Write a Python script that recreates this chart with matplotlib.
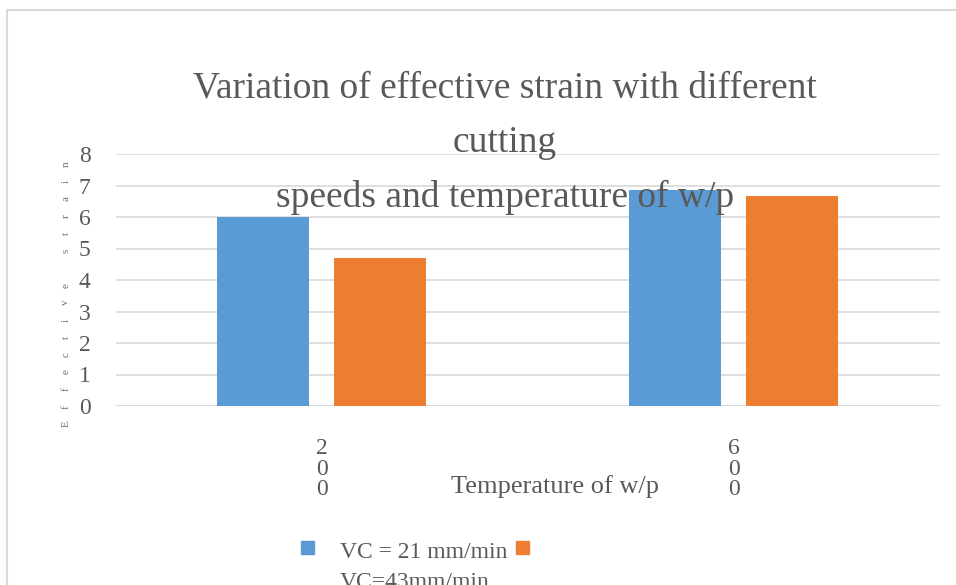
import matplotlib
matplotlib.use("Agg")
import matplotlib.pyplot as plt
import numpy as np
from matplotlib.patches import Rectangle

categories = ["2\n0\n0", "6\n0\n0"]
series_names = ["VC = 21 mm/min", "VC=43mm/min"]
vc21 = [6.0, 6.85]
vc43 = [4.71, 6.66]
yticks = [0, 1, 2, 3, 4, 5, 6, 7, 8]
title_lines = ["Variation of effective strain with different", "cutting",
               "speeds and temperature of w/p"]
ylabel = "Effective strain"
xlabel = "Temperature of w/p"

blue = "#5b9bd5"
orange = "#ed7d31"
grey_text = "#595959"
grid_col = "#d9d9d9"

plt.rcParams["font.family"] = ["Liberation Serif", "DejaVu Serif"]

W, H = 956, 585
fig = plt.figure(figsize=(W / 100, H / 100), dpi=100)

# plot area in pixel coordinates
x0, x1 = 115.5, 940
y_top, y_bot = 154, 406
ax = fig.add_axes([x0 / W, 1 - y_bot / H, (x1 - x0) / W, (y_bot - y_top) / H])

x = np.arange(len(categories))
bw = 0.223
off = 0.142
ax.bar(x - off, vc21, bw, color=blue, zorder=3)
ax.bar(x + off, vc43, bw, color=orange, zorder=3)

ax.set_xlim(-0.5, 1.5)
ax.set_ylim(0, 8)
ax.set_yticks(yticks)
ax.set_yticklabels([str(v) for v in yticks], fontsize=17, color=grey_text)
ax.set_xticks(x)
ax.set_xticklabels(categories, fontsize=17, color=grey_text, linespacing=0.98)
ax.tick_params(axis="both", length=0)
ax.tick_params(axis="y", pad=18)
ax.tick_params(axis="x", pad=23)
ax.grid(axis="y", color=grid_col, linewidth=1.2, zorder=0)
for s in ax.spines.values():
    s.set_visible(False)
ax.axhline(0, color=grid_col, linewidth=1.4, zorder=2)

# title
ty = [88, 143, 197]
for line, yy in zip(title_lines, ty):
    fig.text(505 / W, 1 - yy / H, line, ha="center", va="center",
             fontsize=27, color=grey_text, zorder=5)

# axis titles
fig.text(555 / W, 1 - 487 / H, xlabel, ha="center", va="center",
         fontsize=19, color=grey_text)
ys = np.linspace(424, 164, len(ylabel))
for ch, yy in zip(ylabel, ys):
    fig.text(66 / W, 1 - yy / H, ch, ha="center", va="center",
             fontsize=8, color="#6f6f6f", rotation=90)

# legend
fig.patches.append(Rectangle((301 / W, 1 - 554 / H), 13 / W, 13 / H,
                             transform=fig.transFigure, color=blue))
fig.text(340 / W, 1 - 553 / H, series_names[0], ha="left", va="center",
         fontsize=17, color=grey_text)
fig.patches.append(Rectangle((516 / W, 1 - 554 / H), 13 / W, 13 / H,
                             transform=fig.transFigure, color=orange))
fig.text(340 / W, 1 - 572 / H, series_names[1], ha="left", va="top",
         fontsize=17, color=grey_text)

# outer frame
fig.patches.append(Rectangle((7 / W, -0.1), 1.2, 1 - 10 / H + 0.1,
                             transform=fig.transFigure, fill=False,
                             edgecolor="#d9d9d9", linewidth=1.5))

fig.savefig("out.png", dpi=100)
